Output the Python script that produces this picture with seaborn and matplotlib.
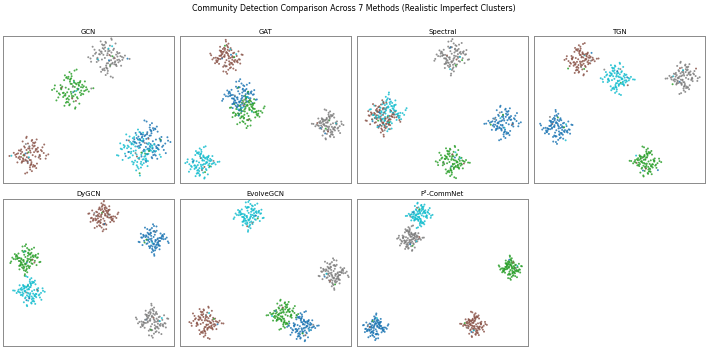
import numpy as np
import pandas as pd
import matplotlib
matplotlib.use("Agg")
import matplotlib.pyplot as plt
import seaborn as sns

# ---------------- data ----------------
methods = ["GCN", "GAT", "Spectral", "TGN", "DyGCN", "EvolveGCN", "F²-CommNet"]
communities = ["C1", "C2", "C3", "C4", "C5"]
community_colors = ["#1f77b4", "#2ca02c", "#8c564b", "#7f7f7f", "#17becf"]  # blue, green, brown, gray, cyan

# cluster centres (panel units: x 0..170, y 0..147), order = communities
centers_x = {
    "GCN":        [145, 69, 26, 105, 134],
    "GAT":        [60, 66, 47, 147, 22],
    "Spectral":   [145, 95, 25, 95, 30],
    "TGN":        [23, 111, 47, 148, 83],
    "DyGCN":      [149, 23, 99, 149, 26],
    "EvolveGCN":  [122, 102, 26, 152, 69],
    "F²-CommNet": [18, 153, 116, 53, 62],
}
centers_y = {
    "GCN":        [41, 93, 29, 126, 31],
    "GAT":        [86, 73, 126, 58, 20],
    "Spectral":   [61, 22, 65, 126, 71],
    "TGN":        [56, 21, 123, 106, 105],
    "DyGCN":      [106, 86, 130, 25, 54],
    "EvolveGCN":  [19, 32, 24, 72, 130],
    "F²-CommNet": [19, 78, 21, 107, 131],
}
# cluster spread (std, panel units)
spreads = {
    "GCN":        [9.0, 8.5, 8.0, 8.5, 9.5],
    "GAT":        [7.5, 7.5, 7.0, 6.5, 7.0],
    "Spectral":   [7.5, 7.0, 7.5, 7.5, 8.0],
    "TGN":        [7.0, 6.5, 7.0, 7.0, 7.0],
    "DyGCN":      [6.5, 6.5, 6.5, 7.0, 6.5],
    "EvolveGCN":  [6.5, 6.5, 7.0, 6.5, 6.5],
    "F²-CommNet": [5.5, 5.0, 5.5, 5.5, 5.5],
}
# number of mislabelled nodes per cluster
mislabelled = {"GCN": 9, "GAT": 7, "Spectral": 7, "TGN": 6, "DyGCN": 5,
               "EvolveGCN": 4, "F²-CommNet": 4}

# standardised within-cluster node offsets
offset_x = [
    0.12, -0.85, 1.34, -0.41, 0.67, -1.72, 0.05, 0.93, -0.28, -1.15,
    1.81, -0.62, 0.34, -0.07, 1.02, -2.21, 0.49, -0.93, 0.21, 1.47,
    -0.36, 0.78, -1.38, 0.15, -0.54, 2.05, -0.19, 0.61, -0.81, 0.27,
    1.19, -1.03, -0.12, 0.88, -1.61, 0.42, -0.25, 1.58, -0.71, 0.03,
    -0.47, 0.97, -1.27, 0.31, 2.38, -0.66, 0.18, -0.99, 0.72, -0.15,
    1.26, -0.39, -1.91, 0.56, 0.09, -0.77, 1.11, -0.31, 0.44, -1.46,
    0.83, -0.04, 1.65, -0.58, 0.24, -1.09, 0.69, -0.21, -2.45, 0.37,
    1.39, -0.88, 0.13, -0.45, 0.94, -1.33, 0.52, 1.87, -0.63, 0.07,
    -0.33, 0.76, -1.21, 0.29, -0.09, 1.08, -0.73, 0.46, -1.55, 0.64,
    2.12, -0.17, 0.39, -1.01, 0.81, -0.49, 0.02, 1.31, -0.86, -0.24,
]
offset_y = [
    -0.44, 0.91, 0.23, -1.27, 1.52, 0.08, -0.69, -1.84, 0.37, 0.62,
    -0.15, -0.98, 2.11, 0.47, -0.31, 0.19, -1.43, 1.06, 0.74, -0.52,
    -2.03, 0.29, -0.11, 1.38, -0.83, 0.55, 0.96, -0.26, -1.59, 1.21,
    0.41, -0.06, -0.72, 1.73, 0.33, -1.12, 2.29, -0.38, 0.14, -0.91,
    0.68, 1.17, -0.48, -1.66, 0.02, 0.85, -0.21, -0.59, 1.44, -1.34,
    0.26, 0.79, -0.17, -0.95, 1.63, 0.51, -0.34, -2.18, 0.11, 1.02,
    -0.64, 0.38, -0.86, 0.16, 1.29, -0.42, -1.05, 0.87, 0.22, -1.78,
    0.58, -0.28, 1.91, -0.09, -0.63, 0.46, 1.35, -1.21, 0.04, 0.72,
    -0.53, -1.48, 0.31, 0.99, -0.24, -0.81, 0.63, 1.56, -0.02, -1.37,
    0.17, 1.11, -0.71, 0.35, -0.45, 2.41, -0.99, 0.09, 0.88, -0.13,
]

# ---------------- build table ----------------
ox = np.array(offset_x)
oy = np.array(offset_y)
n = len(ox)
variants = [(ox, oy), (-ox, oy), (ox, -oy), (-ox, -oy),
            (oy, ox), (-oy, ox), (oy, -ox), (-oy, -ox)]

rows = []
for p, m in enumerate(methods):
    nw = mislabelled[m]
    wrong_idx = set(int(i) for i in np.linspace(3, n - 4, nw).round())
    per_cluster = []
    for k, c in enumerate(communities):
        vx, vy = variants[(p * 5 + k) % 8]
        xs = centers_x[m][k] + spreads[m][k] * vx
        ys = centers_y[m][k] + spreads[m][k] * vy
        labels = []
        w = 0
        for i in range(n):
            if i in wrong_idx:
                other = [j for j in range(5) if j != k]
                labels.append(communities[other[(w + k + p) % 4]])
                w += 1
            else:
                labels.append(c)
        per_cluster.append((xs, ys, labels))
    for i in range(n):
        for k in range(5):
            xs, ys, labels = per_cluster[k]
            rows.append((m, xs[i], ys[i], labels[i]))

df = pd.DataFrame(rows, columns=["method", "x", "y", "label"])
palette = dict(zip(communities, community_colors))

# ---------------- plot ----------------
dpi = 35.4
fig, axes = plt.subplots(2, 4, figsize=(708 / dpi, 349 / dpi), dpi=dpi)
fig.subplots_adjust(left=3 / 708, right=705 / 708, top=1 - 36 / 349,
                    bottom=3 / 349, wspace=0.035, hspace=0.105)

for ax, m in zip(axes.flat, methods):
    sub = df[df["method"] == m]
    sns.scatterplot(data=sub, x="x", y="y", hue="label", palette=palette,
                    s=16, alpha=0.85, linewidth=0,
                    legend=False, ax=ax)
    ax.set_xlim(0, 170)
    ax.set_ylim(0, 147)
    ax.set_xticks([])
    ax.set_yticks([])
    ax.set_xlabel("")
    ax.set_ylabel("")
    ax.set_title(m, fontsize=14, pad=5)
    for s in ax.spines.values():
        s.set_linewidth(2.0)
        s.set_color("#8c8c8c")

axes.flat[-1].axis("off")
fig.suptitle("Community Detection Comparison Across 7 Methods (Realistic Imperfect Clusters)",
             fontsize=16, y=0.988)

fig.savefig("out.png", dpi=dpi)
